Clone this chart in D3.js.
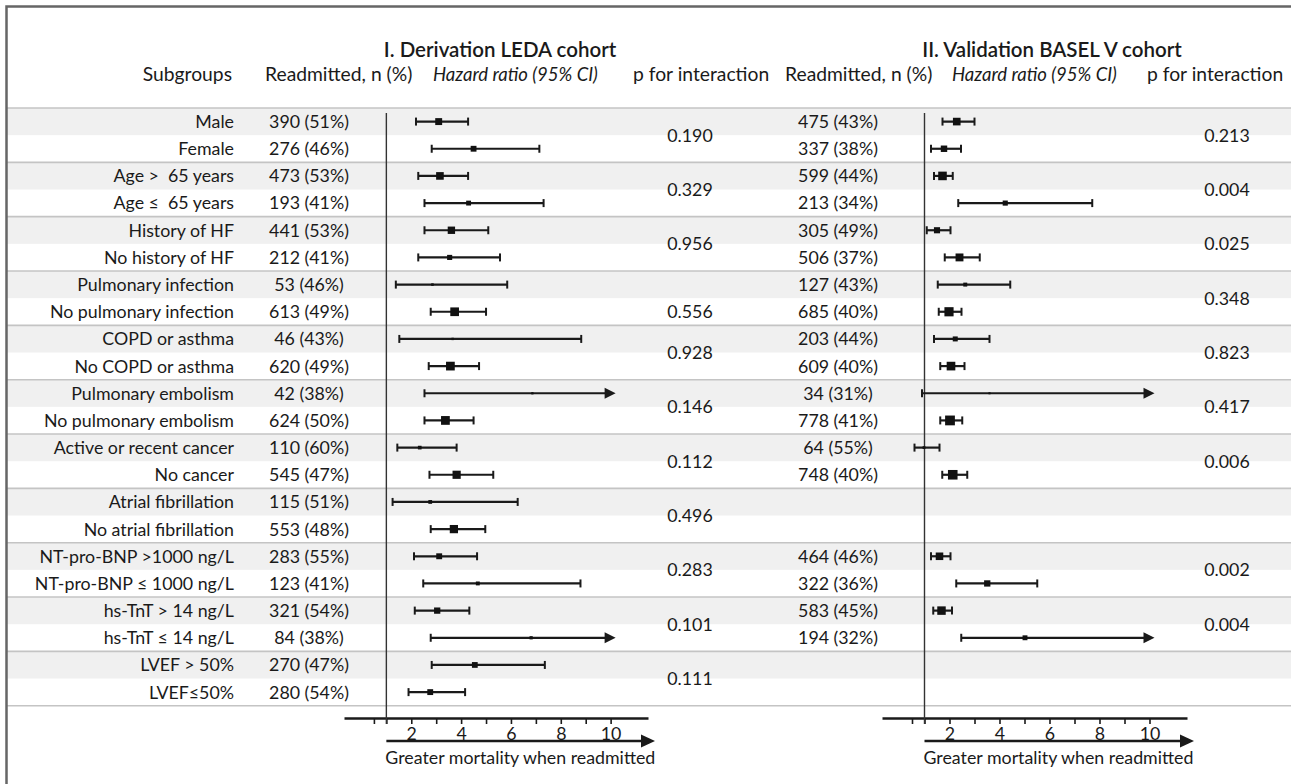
<!DOCTYPE html>
<html>
<head>
<meta charset="utf-8">
<script src="https://cdn.jsdelivr.net/npm/d3@7"></script>
<style>
  body { margin: 0; background: #fff; }
  svg text { font-family: Lato, "Open Sans", sans-serif; fill: #1a1a1a; white-space: pre; }
</style>
</head>
<body>
<svg id="forest" width="1291" height="784"></svg>
<script>
// Subgroup rows (two per group)
const subgroups = [
    'Male', 'Female',
    'Age >  65 years', 'Age \u2264  65 years',
    'History of HF', 'No history of HF',
    'Pulmonary infection', 'No pulmonary infection',
    'COPD or asthma', 'No COPD or asthma',
    'Pulmonary embolism', 'No pulmonary embolism',
    'Active or recent cancer', 'No cancer',
    'Atrial fibrillation', 'No atrial fibrillation',
    'NT-pro-BNP >1000 ng/L', 'NT-pro-BNP \u2264 1000 ng/L',
    'hs-TnT > 14 ng/L', 'hs-TnT \u2264 14 ng/L',
    'LVEF > 50%', 'LVEF\u226450%'
];

// I. Derivation LEDA cohort
const ledaCount = [390, 276, 473, 193, 441, 212, 53, 613, 46, 620, 42, 624, 110, 545, 115, 553, 283, 123, 321, 84, 270, 280];
const ledaPct   = [51, 46, 53, 41, 53, 41, 46, 49, 43, 49, 38, 50, 60, 47, 51, 48, 55, 41, 54, 38, 47, 54];
const ledaHR    = [3.10, 4.50, 3.15, 4.30, 3.61, 3.54, 2.85, 3.74, 3.66, 3.57, 6.86, 3.37, 2.34, 3.82, 2.76, 3.71, 3.12, 4.67, 3.04, 6.81, 4.55, 2.76];
const ledaLo    = [2.19, 2.82, 2.28, 2.53, 2.53, 2.28, 1.38, 2.78, 1.52, 2.70, 2.53, 2.53, 1.44, 2.73, 1.25, 2.78, 2.11, 2.48, 2.14, 2.78, 2.82, 1.89];
const ledaHi    = [4.28, 7.14, 4.28, 7.31, 5.09, 5.56, 5.85, 5.00, 8.82, 4.72, null, 4.50, 3.82, 5.29, 6.27, 4.97, 4.64, 8.79, 4.33, null, 7.36, 4.16];
const ledaP     = ['0.190', '0.329', '0.956', '0.556', '0.928', '0.146', '0.112', '0.496', '0.283', '0.101', '0.111'];

// II. Validation BASEL V cohort (no data for atrial fibrillation and LVEF)
const baselCount = [475, 337, 599, 213, 305, 506, 127, 685, 203, 609, 34, 778, 64, 748, null, null, 464, 322, 583, 194, null, null];
const baselPct   = [43, 38, 44, 34, 49, 37, 43, 40, 44, 40, 31, 41, 55, 40, null, null, 46, 36, 45, 32, null, null];
const baselHR    = [2.29, 1.78, 1.72, 4.23, 1.50, 2.40, 2.63, 1.98, 2.23, 2.06, 3.60, 2.02, 0.98, 2.13, null, null, 1.60, 3.51, 1.68, 5.02, null, null];
const baselLo    = [1.72, 1.26, 1.38, 2.35, 1.09, 1.81, 1.53, 1.57, 1.38, 1.63, 0.90, 1.63, 0.60, 1.71, null, null, 1.26, 2.27, 1.35, 2.47, null, null];
const baselHi    = [3.00, 2.46, 2.13, 7.71, 2.04, 3.21, 4.43, 2.48, 3.60, 2.60, null, 2.51, 1.60, 2.71, null, null, 2.04, 5.51, 2.10, null, null, null];
const baselP     = ['0.213', '0.004', '0.025', '0.348', '0.823', '0.417', '0.006', null, '0.002', '0.004', null];

const axisTicks = [0.5, 1, 2, 3, 4, 5, 6, 7, 8, 9, 10];
const axisLabels = [2, 4, 6, 8, 10];

const svg = d3.select('#forest');
const W = +svg.attr('width');
const nGroups = ledaP.length;
const CI_MAX = 10.2;   // upper CI beyond this is drawn as an arrow

// rows
const y = d3.scaleBand().domain(d3.range(subgroups.length)).range([108, 705.7]);
const bh = y.bandwidth();

// shaded first row of each group, separators
const bands = svg.append('g');
d3.range(nGroups).forEach(g => {
    bands.append('rect')
        .attr('x', 7).attr('y', y(2 * g)).attr('width', W - 7).attr('height', bh)
        .attr('fill', '#f0f0f0');
});
d3.range(nGroups + 1).forEach(g => {
    const yy = g < nGroups ? y(2 * g) : y.range()[1];
    bands.append('line')
        .attr('x1', 7).attr('x2', W).attr('y1', yy).attr('y2', yy)
        .attr('stroke', '#c4c4c4').attr('stroke-width', 1.6);
});

// outer frame
svg.append('rect')
    .attr('x', 6.5).attr('y', 6.5).attr('width', W + 10).attr('height', 800)
    .attr('fill', 'none').attr('stroke', '#666').attr('stroke-width', 2.5);

const FS = 17.8;   // body text
const HS = 19.3;   // column headers

// header
function txt(x, yy, s, anchor, opts = {}) {
    return svg.append('text')
        .attr('x', x).attr('y', yy)
        .attr('text-anchor', anchor)
        .attr('font-size', opts.size || HS)
        .attr('font-style', opts.italic ? 'italic' : null)
        .attr('font-weight', opts.weight || null)
        .text(s);
}
txt(500, 57, 'I. Derivation LEDA cohort', 'middle', { size: 20.5, weight: 600 });
txt(1052, 57, 'II. Validation BASEL V cohort', 'middle', { size: 20.5, weight: 600 });
txt(232, 81, 'Subgroups', 'end');
txt(265, 81, 'Readmitted, n (%)', 'start');
txt(433, 81, 'Hazard ratio (95% CI)', 'start', { italic: true, size: 18.5 });
txt(633, 81, 'p for interaction', 'start');
txt(785, 81, 'Readmitted, n (%)', 'start');
txt(952, 81, 'Hazard ratio (95% CI)', 'start', { italic: true, size: 18.5 });
txt(1147, 81, 'p for interaction', 'start');

// subgroup labels
svg.append('g').selectAll('text')
    .data(subgroups)
    .join('text')
    .attr('x', 234)
    .attr('y', (d, i) => y(i) + bh / 2)
    .attr('dy', '0.36em')
    .attr('text-anchor', 'end')
    .attr('font-size', FS)
    .text(d => d);

const markerSize = d3.scaleSqrt().domain([0, 750]).range([0, 9.6]);

function panel(cfg) {
    const x = d3.scaleLinear().domain([-0.7, 11.5]).range(cfg.range);
    const g = svg.append('g');

    // readmitted n (%)
    g.append('g').selectAll('text')
        .data(cfg.count.map((c, i) => ({ c, p: cfg.pct[i], i })).filter(d => d.c != null))
        .join('text')
        .attr('x', cfg.nx)
        .attr('y', d => y(d.i) + bh / 2)
        .attr('dy', '0.36em')
        .attr('text-anchor', 'middle')
        .attr('font-size', FS)
        .text(d => `${d.c} (${d.p}%)`);

    // p for interaction, centred on each group
    g.append('g').selectAll('text')
        .data(cfg.p.map((p, gi) => ({ p, gi })).filter(d => d.p != null))
        .join('text')
        .attr('x', cfg.px)
        .attr('y', d => {
            const row = cfg.pRow && cfg.pRow[d.gi] != null ? cfg.pRow[d.gi] : null;
            return row != null ? y(row) + bh / 2 : y(2 * d.gi) + bh;
        })
        .attr('dy', '0.36em')
        .attr('text-anchor', 'middle')
        .attr('font-size', FS)
        .text(d => d.p);

    // axis
    const axis = d3.axisBottom(x)
        .tickValues(axisTicks)
        .tickSize(6)
        .tickSizeOuter(0)
        .tickPadding(3)
        .tickFormat(d => axisLabels.includes(d) ? d : '');
    const ax = g.append('g').attr('transform', 'translate(0,718)').call(axis);
    ax.select('.domain').attr('stroke', '#1a1a1a').attr('stroke-width', 2.5);
    ax.selectAll('.tick line').attr('stroke', '#1a1a1a').attr('stroke-width', 1.6);
    ax.selectAll('.tick text').attr('font-size', FS).attr('fill', '#1a1a1a')
        .attr('font-family', 'Lato, sans-serif');

    // reference line at HR = 1
    g.append('line')
        .attr('x1', x(1)).attr('x2', x(1)).attr('y1', 113).attr('y2', 724)
        .attr('stroke', '#333').attr('stroke-width', 1.4);

    // direction arrow + caption
    const ay = 741;
    const tip = cfg.range[1] + 7;
    g.append('line')
        .attr('x1', x(1)).attr('x2', tip - 10).attr('y1', ay).attr('y2', ay)
        .attr('stroke', '#1a1a1a').attr('stroke-width', 2.5);
    g.append('path')
        .attr('d', `M${tip},${ay} L${tip - 14},${ay - 6.5} L${tip - 14},${ay + 6.5} Z`)
        .attr('fill', '#1a1a1a');
    g.append('text')
        .attr('x', x(1) - 1).attr('y', 764)
        .attr('font-size', FS)
        .text('Greater mortality when readmitted');

    // CIs and point estimates
    const rows = cfg.hr.map((h, i) => ({ h, lo: cfg.lo[i], hi: cfg.hi[i], n: cfg.count[i], i }))
        .filter(d => d.h != null);
    const ci = g.append('g').selectAll('g').data(rows).join('g')
        .attr('transform', d => `translate(0,${y(d.i) + bh / 2})`);
    ci.append('line')
        .attr('x1', d => x(d.lo))
        .attr('x2', d => d.hi == null ? x(CI_MAX) - 8 : x(d.hi))
        .attr('stroke', '#1a1a1a').attr('stroke-width', 2.2);
    ci.append('line')
        .attr('x1', d => x(d.lo)).attr('x2', d => x(d.lo))
        .attr('y1', -4).attr('y2', 4)
        .attr('stroke', '#1a1a1a').attr('stroke-width', 2);
    ci.filter(d => d.hi != null).append('line')
        .attr('x1', d => x(d.hi)).attr('x2', d => x(d.hi))
        .attr('y1', -4).attr('y2', 4)
        .attr('stroke', '#1a1a1a').attr('stroke-width', 2);
    ci.filter(d => d.hi == null).append('path')
        .attr('d', () => {
            const t = x(CI_MAX);
            return `M${t},0 L${t - 11},-5.5 L${t - 11},5.5 Z`;
        })
        .attr('fill', '#1a1a1a');
    ci.append('rect')
        .attr('x', d => x(d.h) - markerSize(d.n) / 2)
        .attr('y', d => -markerSize(d.n) / 2)
        .attr('width', d => markerSize(d.n))
        .attr('height', d => markerSize(d.n))
        .attr('fill', '#111');
}

panel({
    range: [344, 648], nx: 309, px: 690,
    count: ledaCount, pct: ledaPct, hr: ledaHR, lo: ledaLo, hi: ledaHi, p: ledaP,
    pRow: { 3: 7 }   // 0.556 sits on the second row in the original
});
panel({
    range: [882, 1187], nx: 838, px: 1227,
    count: baselCount, pct: baselPct, hr: baselHR, lo: baselLo, hi: baselHi, p: baselP
});
</script>
</body>
</html>
